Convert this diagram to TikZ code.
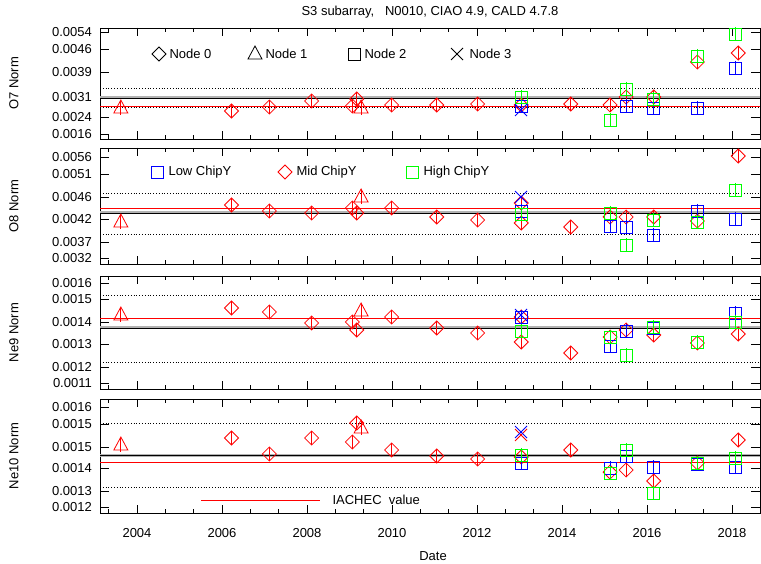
\documentclass[tikz,border=0pt]{standalone}
\usepackage{fontspec}
\setmainfont{Liberation Sans}
\definecolor{pblue}{rgb}{0,0,1}
\definecolor{pred}{rgb}{1,0,0}
\definecolor{pgreen}{rgb}{0,1,0}
\newcommand{\dmdp}{+(0,-7) -- +(7,0) -- +(0,7) -- +(-7,0) -- cycle}
\newcommand{\sqrp}{+(-6,-6) rectangle +(6,6)}
\newcommand{\trip}{+(0,-8) -- +(7,5) -- +(-7,5) -- cycle}
\newcommand{\mk}[4]{% shape path, colour, name prefix, list of x/y
  \foreach \px/\py [count=\i] in {#4} {
    \coordinate (#3\i) at ({\px*1.456},\py);
    \draw[#2, thick] (#3\i) +(0,-7) -- +(0,7);
    \draw[#2, thick] (#3\i) #1;
  }}
\newcommand{\xm}[3]{% colour, name, position
  \coordinate (#2) at (#3);
  \draw[#1, thick] (#2) +(-6,-6) -- +(6,6) +(-6,6) -- +(6,-6);}

\begin{document}
\begin{tikzpicture}[x=1pt, y=-1pt, font=\fontsize{13}{15}\selectfont]
                \tikzstyle{frame}=[draw, thick]
                \tikzstyle{dotline}=[dotted, thick]
                \useasboundingbox (0,0) rectangle (761,564);

                % title
                \node (title) at (430,12) {S3 subarray,\ \ \ N0010, CIAO 4.9, CALD 4.7.8};

                % panels
                \foreach \top/\bot/\lab [count=\k] in {28/139/O7 Norm, 148/264/O8 Norm, 276/389/Ne9 Norm, 399/513/Ne10 Norm} {
                  \draw[frame] (100,\top) rectangle (760,\bot);
                  \node[rotate=90] (ylab\k) at (14,{(\top+\bot)/2}) {\lab};
                  \foreach \yr in {2004,2006,...,2018} {
                    \draw[thick] ({137+(\yr-2004)*42.5},\bot) -- ++(0,-8);
                    \draw[thick] ({137+(\yr-2004)*42.5},\top) -- ++(0,8);
                  }
                  \foreach \m in {-1,...,23} {
                    \draw[thick] ({137+\m*28.33},\bot) -- ++(0,-4);
                    \draw[thick] ({137+\m*28.33},\top) -- ++(0,4);
                  }
                }

                % y tick labels
                \foreach \t/\yy [count=\i] in {0.0054/32, 0.0046/49, 0.0039/72, 0.0031/97, 0.0024/117, 0.0016/134,
                                    0.0056/157, 0.0051/174, 0.0046/197, 0.0042/219, 0.0037/242, 0.0032/258,
                                    0.0016/283, 0.0015/299, 0.0014/322, 0.0013/344, 0.0012/367, 0.0011/383,
                                    0.0016/407, 0.0015/424, 0.0015/447, 0.0014/468, 0.0013/491, 0.0012/507} {
                  \node[anchor=east, inner sep=1pt] (yt\i) at (93,\yy) {\t};
                  \draw[thick] (100,\yy) -- ++(9,0) (760,\yy) -- ++(-9,0);
                }

                % x tick labels
                \foreach \yr in {2004,2006,...,2018}
                  \node (xt\yr) at ({137+(\yr-2004)*42.5},533) {\yr};
                \node (date) at (433,556) {Date};

                % reference lines
                \foreach \rl/\bl/\da/\db in {106/98/88/107, 208/213/193/234, 318/328/295/362, 462/455/423/487} {
                  \draw[dotline] (100,\da) -- (760,\da) (100,\db) -- (760,\db);
                  \draw[black!30, line width=3pt] (100,\bl) -- (760,\bl);
                  \draw[black, thick] (100,\bl) -- (760,\bl);
                  \draw[pred, thick] (100,\rl) -- (760,\rl);
                }

                % O7 panel
                \mk{\trip}{pred}{a}{83/108, 248/108}
                \mk{\dmdp}{pred}{b}{159/111, 185/107, 214/101, 242/106, 245/99, 269/105, 300/105, 328/104, 358/105, 392/104, 419/105, 430/97, 449/97, 479/62, 507/53}
                \mk{\sqrp}{pblue}{c}{358/106, 430/106, 449/108, 479/108, 505/68}
                \mk{\sqrp}{pgreen}{d}{358/97, 419/120, 430/89, 449/99, 479/56, 505/34}
                \xm{pblue}{e1}{521,110}

                % O8 panel
                \mk{\trip}{pred}{f}{83/222, 248/197}
                \mk{\dmdp}{pred}{g}{159/205, 185/211, 214/213, 242/208, 245/213, 269/208, 300/217, 328/220, 358/223, 358/203, 392/227, 419/217, 430/217, 449/217, 479/221, 507/156}
                \mk{\sqrp}{pblue}{h}{358/211, 419/226, 430/227, 449/235, 479/211, 505/219}
                \mk{\sqrp}{pgreen}{j}{358/214, 419/213, 430/245, 449/220, 479/222, 505/190}
                \xm{pblue}{k1}{521,197}

                % Ne9 panel
                \mk{\trip}{pred}{l}{83/315, 248/311}
                \mk{\dmdp}{pred}{m}{159/308, 185/312, 214/323, 242/322, 245/330, 269/317, 300/328, 328/333, 358/342, 358/317, 392/353, 419/337, 430/330, 449/335, 479/343, 507/334}
                \mk{\sqrp}{pblue}{n}{358/317, 419/346, 430/331, 449/328, 479/342, 505/313}
                \mk{\sqrp}{pgreen}{o}{358/331, 419/337, 430/355, 449/327, 479/342, 505/322}
                \xm{pblue}{q1}{521,315}

                % Ne10 panel
                \mk{\trip}{pred}{r}{83/445, 248/428}
                \mk{\dmdp}{pred}{s}{159/438, 185/454, 214/438, 242/442, 245/423, 269/450, 300/456, 328/459, 358/457, 392/450, 419/472, 430/470, 449/481, 479/463, 507/440}
                \mk{\sqrp}{pblue}{t}{358/463, 419/468, 430/456, 449/467, 479/464, 505/467}
                \mk{\sqrp}{pgreen}{u}{358/455, 419/473, 430/450, 449/493, 479/463, 505/458}
                \xm{pred}{v1}{521,435}
                \xm{pblue}{v2}{521,432}

                % legends
                \coordinate (lg0) at (159,54);
                \draw[thick] (lg0) \dmdp;
                \node[anchor=west] (lt0) at (166,54) {Node 0};
                \coordinate (lg1) at (255,54);
                \draw[thick] (lg1) \trip;
                \node[anchor=west] (lt1) at (262,54) {Node 1};
                \coordinate (lg2) at (354,54);
                \draw[thick] (lg2) \sqrp;
                \node[anchor=west] (lt2) at (361,54) {Node 2};
                \xm{black}{lg3}{457,54}
                \node[anchor=west] (lt3) at (466,54) {Node 3};
                \coordinate (lh0) at (157,172);
                \draw[pblue, thick] (lh0) \sqrp;
                \node[anchor=west] (lu0) at (165,172) {Low ChipY};
                \coordinate (lh1) at (285,172);
                \draw[pred, thick] (lh1) \dmdp;
                \node[anchor=west] (lu1) at (293,172) {Mid ChipY};
                \coordinate (lh2) at (412,172);
                \draw[pgreen, thick] (lh2) \sqrp;
                \node[anchor=west] (lu2) at (420,172) {High ChipY};
                \coordinate (iaA) at (201,500);
                \coordinate (iaB) at (320,500);
                \draw[pred, thick] (iaA) -- (iaB);
                \node[anchor=west] (iach) at (329,500) {IACHEC\ \ value};
\end{tikzpicture}
\end{document}
